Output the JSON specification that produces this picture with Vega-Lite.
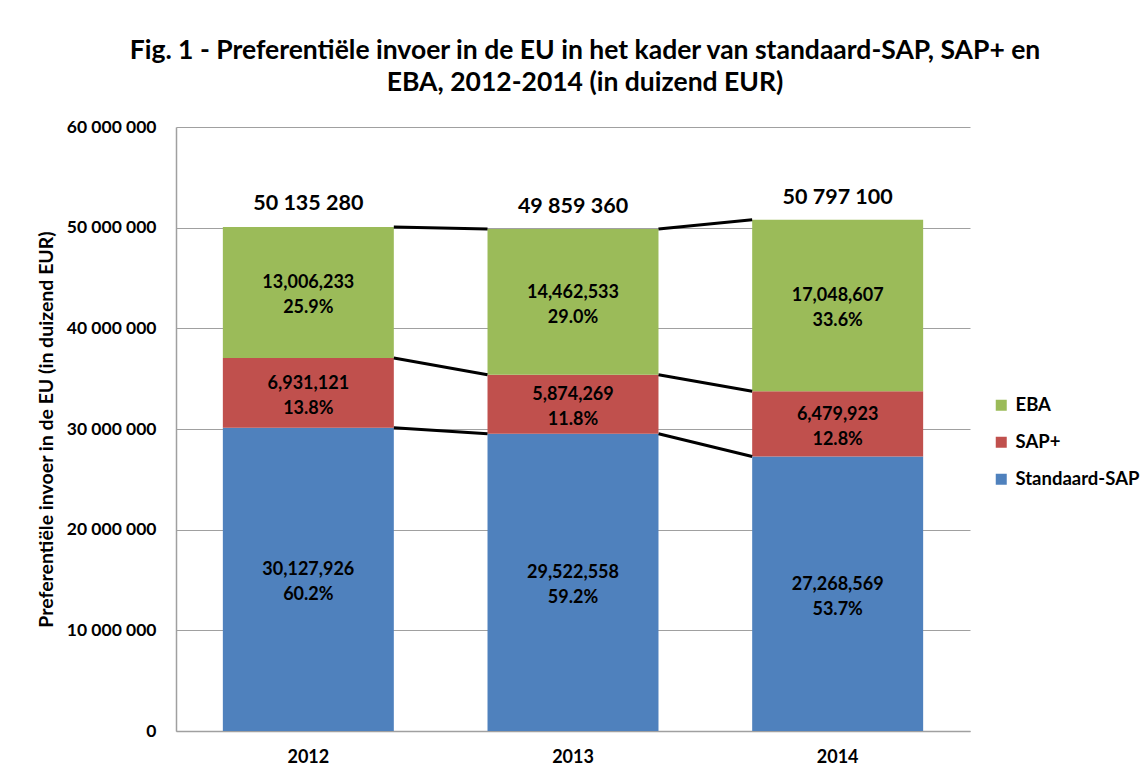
{
  "$schema": "https://vega.github.io/schema/vega-lite/v6.json",
  "autosize": {"type": "none"},
  "padding": {"left": 176, "top": 127, "right": 177, "bottom": 45},
  "width": 794,
  "height": 604,
  "background": "white",
  "title": {
    "text": ["Fig. 1 - Preferentiële invoer in de EU in het kader van standaard-SAP, SAP+ en", "EBA, 2012-2014 (in duizend EUR)"],
    "font": "Lato",
    "fontSize": 26.5,
    "fontWeight": "bold",
    "color": "#000000",
    "anchor": "middle",
    "frame": "group",
    "dx": 12,
    "offset": 22,
    "lineHeight": 32
  },
  "config": {
    "view": {"stroke": null},
    "font": "Lato"
  },
  "datasets": {
    "seg": [
      {"year": "2012", "series": "Standaard-SAP", "value": 30127926, "pct": 60.2},
      {"year": "2012", "series": "SAP+", "value": 6931121, "pct": 13.8},
      {"year": "2012", "series": "EBA", "value": 13006233, "pct": 25.9},
      {"year": "2013", "series": "Standaard-SAP", "value": 29522558, "pct": 59.2},
      {"year": "2013", "series": "SAP+", "value": 5874269, "pct": 11.8},
      {"year": "2013", "series": "EBA", "value": 14462533, "pct": 29.0},
      {"year": "2014", "series": "Standaard-SAP", "value": 27268569, "pct": 53.7},
      {"year": "2014", "series": "SAP+", "value": 6479923, "pct": 12.8},
      {"year": "2014", "series": "EBA", "value": 17048607, "pct": 33.6}
    ],
    "tot": [
      {"year": "2012", "total": 50135280},
      {"year": "2013", "total": 49859360},
      {"year": "2014", "total": 50797100}
    ]
  },
  "data": {"name": "seg"},
  "transform": [
    {"calculate": "indexof(['Standaard-SAP','SAP+','EBA'], datum.series)", "as": "rank"},
    {"stack": "value", "groupby": ["year"], "sort": [{"field": "rank", "order": "ascending"}], "as": ["v0", "v1"]}
  ],
  "encoding": {
    "x": {
      "field": "year",
      "type": "nominal",
      "scale": {"paddingInner": 0.354, "paddingOuter": 0.177},
      "axis": {
        "title": null,
        "labelAngle": 0,
        "labelFont": "Lato",
        "labelFontSize": 18,
        "labelFontWeight": "bold",
        "labelColor": "#000000",
        "labelPadding": 17,
        "ticks": false,
        "domainColor": "#a0a0a0",
        "domainWidth": 1.5
      }
    }
  },
  "layer": [
    {
      "mark": {"type": "bar"},
      "encoding": {
        "y": {
          "field": "v0",
          "type": "quantitative",
          "scale": {"domain": [0, 60000000], "nice": false},
          "axis": {
            "title": "Preferentiële invoer in de EU (in duizend EUR)",
            "titleFont": "Lato",
            "titleFontSize": 19.5,
            "titleFontWeight": "bold",
            "titleColor": "#000000",
            "titlePadding": 10,
            "values": [0, 10000000, 20000000, 30000000, 40000000, 50000000, 60000000],
            "labelExpr": "replace(format(datum.value, ','), regexp(',', 'g'), ' ')",
            "labelFont": "Lato",
            "labelFontSize": 17.5,
            "labelFontWeight": "bold",
            "labelColor": "#000000",
            "labelPadding": 20,
            "ticks": false,
            "grid": true,
            "gridColor": "#a0a0a0",
            "gridWidth": 1,
            "domainColor": "#a0a0a0",
            "domainWidth": 1.5
          }
        },
        "y2": {"field": "v1"},
        "color": {
          "field": "series",
          "type": "nominal",
          "scale": {"domain": ["Standaard-SAP", "SAP+", "EBA"], "range": ["#4F81BD", "#C0504D", "#9BBB59"]},
          "legend": {
            "title": null,
            "orient": "none",
            "legendX": 816,
            "legendY": 269,
            "values": ["EBA", "SAP+", "Standaard-SAP"],
            "symbolType": "square",
            "symbolSize": 121,
            "symbolStrokeWidth": 0,
            "labelFont": "Lato",
            "labelFontSize": 18.5,
            "labelFontWeight": "bold",
            "labelColor": "#000000",
            "labelOffset": 5,
            "rowPadding": 18
          }
        }
      }
    },
    {
      "transform": [
        {"window": [{"op": "lead", "field": "v1", "as": "nv1"}, {"op": "lead", "field": "year", "as": "nyear"}], "groupby": ["series"], "sort": [{"field": "year", "order": "ascending"}], "frame": [null, null]},
        {"filter": "datum.nyear != null"}
      ],
      "mark": {"type": "rule", "color": "#000000", "strokeWidth": 3},
      "encoding": {
        "x": {"field": "year", "type": "nominal", "bandPosition": 1},
        "x2": {"field": "nyear", "bandPosition": 0},
        "y": {"field": "v1", "type": "quantitative"},
        "y2": {"field": "nv1"}
      }
    },
    {
      "transform": [
        {"calculate": "(datum.v0 + datum.v1) / 2", "as": "mid"},
        {"calculate": "[format(datum.value, ','), format(datum.pct, '.1f') + '%']", "as": "lbl"}
      ],
      "mark": {"type": "text", "font": "Lato", "fontSize": 18, "fontWeight": "bold", "color": "#000000", "lineHeight": 25, "baseline": "middle", "dy": -9},
      "encoding": {
        "y": {"field": "mid", "type": "quantitative"},
        "text": {"field": "lbl"}
      }
    },
    {
      "data": {"name": "tot"},
      "transform": [
        {"calculate": "replace(format(datum.total, ','), regexp(',', 'g'), ' ')", "as": "lbl"}
      ],
      "mark": {"type": "text", "font": "Lato", "fontSize": 21.5, "fontWeight": "bold", "color": "#000000", "baseline": "middle", "dy": -22},
      "encoding": {
        "y": {"field": "total", "type": "quantitative"},
        "text": {"field": "lbl"}
      }
    }
  ]
}
